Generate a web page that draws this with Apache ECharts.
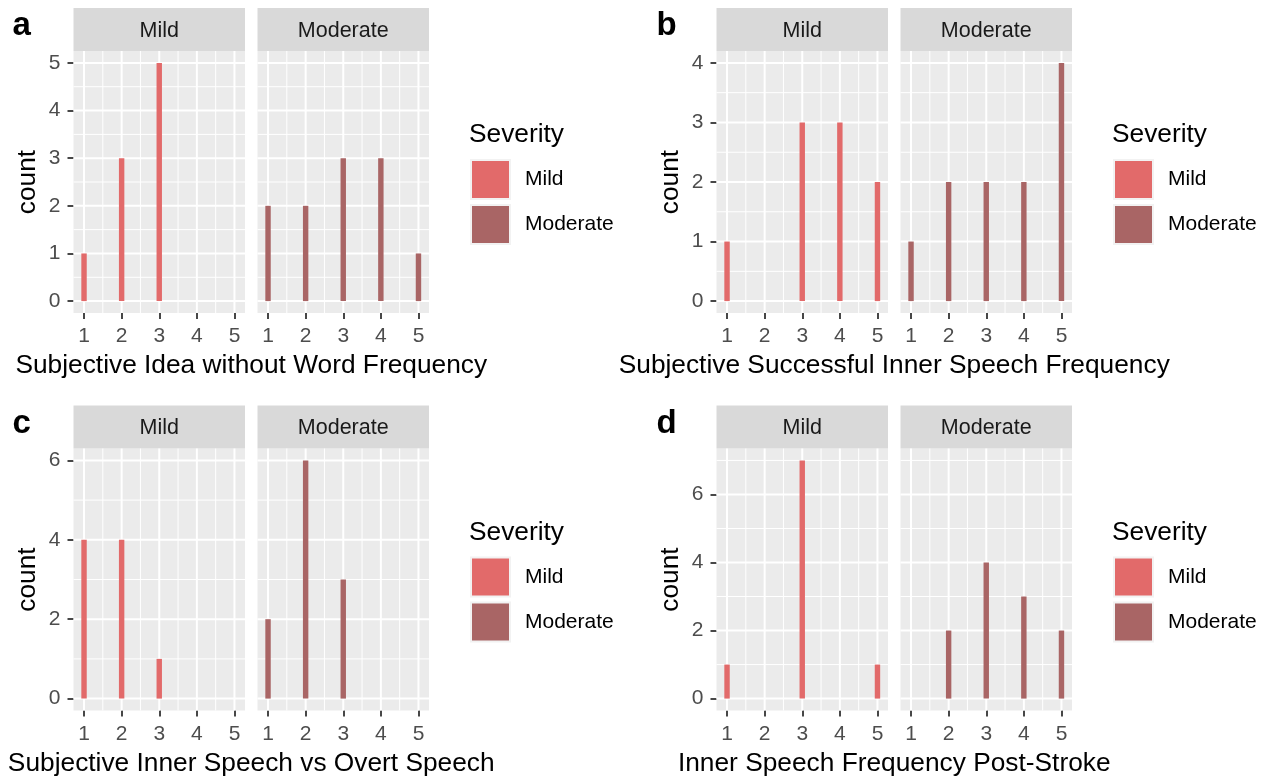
<!DOCTYPE html>
<html>
<head>
<meta charset="utf-8">
<script src="https://cdn.jsdelivr.net/npm/echarts@6/dist/echarts.min.js"></script>
<style>html,body{margin:0;padding:0;background:#fff;}#c{width:1273px;height:778px;}</style>
</head>
<body>
<div id="c"></div>
<script>
// ---- data ----
const xValues = [1, 2, 3, 4, 5];
const facets = ['Mild', 'Moderate'];
const aMild = [1, 3, 5, 0, 0];
const aModerate = [2, 2, 3, 3, 1];
const bMild = [1, 0, 3, 3, 2];
const bModerate = [1, 2, 2, 2, 4];
const cMild = [4, 4, 1, 0, 0];
const cModerate = [2, 6, 3, 0, 0];
const dMild = [1, 0, 7, 0, 1];
const dModerate = [0, 2, 4, 3, 2];
const aYTicks = [0, 1, 2, 3, 4, 5];
const bYTicks = [0, 1, 2, 3, 4];
const cYTicks = [0, 2, 4, 6];
const dYTicks = [0, 2, 4, 6];
const xTitles = ['Subjective Idea without Word Frequency', 'Subjective Successful Inner Speech Frequency',
                 'Subjective Inner Speech vs Overt Speech', 'Inner Speech Frequency Post-Stroke'];
const tags = ['a', 'b', 'c', 'd'];
const legendTitle = 'Severity';
const yTitle = 'count';

// ---- styling ----
const FONT = '"Liberation Sans", Arial, sans-serif';
const COLORS = {Mild: '#E26A6A', Moderate: '#A96565'};
const panels = [
  {tag: tags[0], mild: aMild, mod: aModerate, yt: aYTicks, ox: 0, oy: 0, title: xTitles[0]},
  {tag: tags[1], mild: bMild, mod: bModerate, yt: bYTicks, ox: 643, oy: 0, title: xTitles[1]},
  {tag: tags[2], mild: cMild, mod: cModerate, yt: cYTicks, ox: 0, oy: 397.5, title: xTitles[2]},
  {tag: tags[3], mild: dMild, mod: dModerate, yt: dYTicks, ox: 643, oy: 397.5, title: xTitles[3]}
];
const GRID_TOP = 51, GRID_H = 262, FACET_W = 171.5;
const FACET_LEFT = [73.5, 257.5];
const XMIN = 0.72, XMAX = 5.28;
const BAR_HALF = 0.072;
const TICK_FS = 21, TITLE_FS = 26.3, STRIP_FS = 21.5;

const grids = [], xAxes = [], yAxes = [], series = [], graphics = [], legends = [];
let gi = 0;

function gridLineData(yMin, yMax, yt) {
  const out = [];
  const xs = xValues.slice();
  const xStep = xs[1] - xs[0];
  for (let v = xs[0] - xStep / 2; v <= XMAX; v += xStep / 2) {
    if (v < XMIN) continue;
    const major = xs.indexOf(v) >= 0;
    out.push([v, 0, major ? 1 : 0, 0]);
  }
  const yStep = yt[1] - yt[0];
  for (let v = yt[0] - yStep / 2; v <= yMax + 1e-9; v += yStep / 2) {
    if (v < yMin) continue;
    const major = yt.indexOf(Math.round(v * 1000) / 1000) >= 0;
    out.push([3, v, major ? 1 : 0, 1]);
  }
  return out;
}

panels.forEach((p, pi) => {
  const maxCount = Math.max(...p.mild, ...p.mod);
  const yMin = -0.05 * maxCount, yMax = 1.05 * maxCount;
  const top = GRID_TOP + p.oy;
  [p.mild, p.mod].forEach((vals, fi) => {
    const left = FACET_LEFT[fi] + p.ox;
    grids.push({left: left, top: top, width: FACET_W, height: GRID_H,
      show: true, backgroundColor: '#EBEBEB', borderWidth: 0, containLabel: false});
    xAxes.push({type: 'value', gridIndex: gi, min: XMIN, max: XMAX, position: 'bottom',
      axisLine: {show: false, onZero: false}, splitLine: {show: false},
      axisTick: {show: true, length: 6, lineStyle: {color: '#333333', width: 1.8}, customValues: xValues},
      axisLabel: {show: true, customValues: xValues, margin: 13, fontSize: TICK_FS, color: '#4D4D4D', fontFamily: FONT}
    });
    yAxes.push({type: 'value', gridIndex: gi, min: yMin, max: yMax, position: 'left',
      axisLine: {show: false, onZero: false}, splitLine: {show: false},
      axisTick: {show: fi === 0, length: 6, lineStyle: {color: '#333333', width: 1.8}, customValues: p.yt},
      axisLabel: {show: fi === 0, customValues: p.yt, margin: 13, fontSize: TICK_FS, color: '#4D4D4D', fontFamily: FONT}
    });
    series.push({type: 'custom', xAxisIndex: gi, yAxisIndex: gi, silent: true, z: 1,
      data: gridLineData(yMin, yMax, p.yt),
      renderItem: function (params, api) {
        const cs = params.coordSys;
        const pt = api.coord([api.value(0), api.value(1)]);
        const w = api.value(2) ? 2 : 1;
        let shape;
        if (api.value(3) === 0) shape = {x1: pt[0], y1: cs.y, x2: pt[0], y2: cs.y + cs.height};
        else shape = {x1: cs.x, y1: pt[1], x2: cs.x + cs.width, y2: pt[1]};
        return {type: 'line', shape: shape, style: {stroke: '#FFFFFF', lineWidth: w}};
      }
    });
    const name = facets[fi];
    series.push({type: 'custom', name: name, xAxisIndex: gi, yAxisIndex: gi, z: 3,
      itemStyle: {color: COLORS[name]},
      data: xValues.map((x, i) => [x, vals[i]]).filter(d => d[1] > 0),
      renderItem: function (params, api) {
        const x = api.value(0), y = api.value(1);
        const p0 = api.coord([x - BAR_HALF, y]);
        const p1 = api.coord([x + BAR_HALF, 0]);
        return {type: 'rect', shape: {x: p0[0], y: p0[1], width: p1[0] - p0[0], height: p1[1] - p0[1]},
          style: {fill: COLORS[name]}};
      }
    });
    graphics.push({type: 'rect', shape: {x: left, y: top - 43, width: FACET_W, height: 43},
      style: {fill: '#D9D9D9'}, silent: true});
    graphics.push({type: 'text', x: left + FACET_W / 2, y: top - 20,
      style: {text: name, font: STRIP_FS + 'px ' + FONT, fill: '#1A1A1A', textAlign: 'center', textVerticalAlign: 'middle'}});
    gi++;
  });
  const l0 = FACET_LEFT[0] + p.ox, l1 = FACET_LEFT[1] + p.ox + FACET_W;
  graphics.push({type: 'text', x: (l0 + l1) / 2, y: top + GRID_H + 53,
    style: {text: p.title, font: TITLE_FS + 'px ' + FONT, fill: '#000', textAlign: 'center', textVerticalAlign: 'middle'}});
  graphics.push({type: 'text', x: 28 + p.ox, y: top + GRID_H / 2, rotation: Math.PI / 2,
    style: {text: yTitle, font: TITLE_FS + 'px ' + FONT, fill: '#000', textAlign: 'center', textVerticalAlign: 'middle'}});
  graphics.push({type: 'text', x: 12.5 + p.ox + (p.ox ? 1 : 0), y: top - 25,
    style: {text: p.tag, font: 'bold 33px ' + FONT, fill: '#000', textAlign: 'left', textVerticalAlign: 'middle'}});
  graphics.push({type: 'text', x: 469 + p.ox, y: top + 84,
    style: {text: legendTitle, font: TITLE_FS + 'px ' + FONT, fill: '#000', textAlign: 'left', textVerticalAlign: 'middle'}});
  legends.push({data: facets, orient: 'vertical', left: 470 + p.ox, top: top + 108,
    icon: 'rect', itemWidth: 39, itemHeight: 39, itemGap: 4, padding: 0, selectedMode: false,
    itemStyle: {borderColor: '#F2F2F2', borderWidth: 2},
    textStyle: {fontSize: TICK_FS, color: '#000', fontFamily: FONT, padding: [0, 0, 0, 10]}
  });
});

const chart = echarts.init(document.getElementById('c'), null, {renderer: 'canvas'});
chart.setOption({
  animation: false,
  backgroundColor: '#FFFFFF',
  textStyle: {fontFamily: FONT},
  grid: grids, xAxis: xAxes, yAxis: yAxes, series: series,
  legend: legends,
  graphic: graphics
});
</script>
</body>
</html>
